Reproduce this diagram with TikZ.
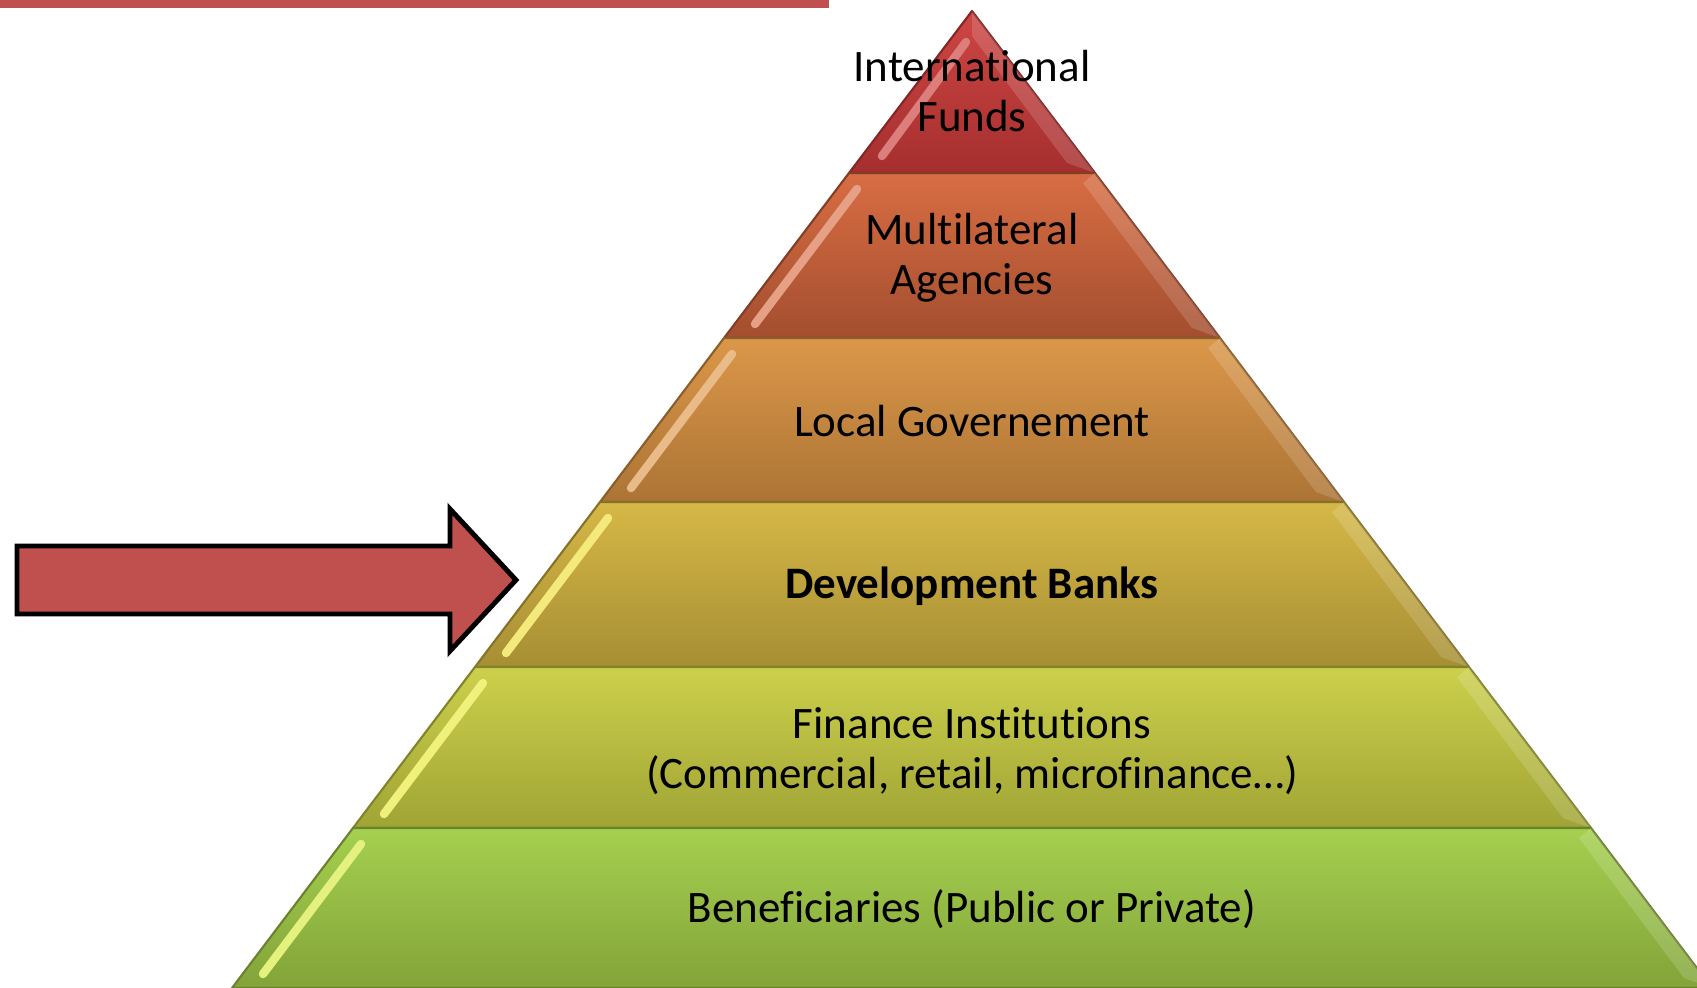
\documentclass[tikz,border=0pt]{standalone}
\usepackage{fontspec}
\setmainfont[RawFeature={-liga;-rlig;-clig;-calt;-dlig}]{Carlito}
\usepackage{xcolor}
\usepackage{tikz}
\usetikzlibrary{positioning,calc}

\definecolor{fundstop}{HTML}{CD4644}
\definecolor{fundsbot}{HTML}{A52F2E}
\definecolor{multitop}{HTML}{D86D43}
\definecolor{multibot}{HTML}{A34E2F}
\definecolor{localtop}{HTML}{DB9749}
\definecolor{localbot}{HTML}{AC7435}
\definecolor{banktop}{HTML}{D6B847}
\definecolor{bankbot}{HTML}{A68E33}
\definecolor{fintop}{HTML}{CCD04B}
\definecolor{finbot}{HTML}{A0A435}
\definecolor{benetop}{HTML}{A5D04F}
\definecolor{benebot}{HTML}{83A339}
\definecolor{slidered}{HTML}{C0504D}

\begin{document}
\begin{tikzpicture}[
    x=0.01cm, y=-0.01cm,
    font=\fontsize{12.8}{14.3}\selectfont,
    layer/.style={draw=#1, line width=0.6pt, line join=round},
    hilite/.style={line width=2.4pt, line cap=round, draw=#1},
    bevel/.style={fill=white, fill opacity=0.15},
    label/.style={align=center, text=black, inner sep=0pt},
    blockarrow/.style={fill=slidered, draw=black, line width=1.4pt, line join=miter}
]
    \clip (0,0) rectangle (1697,988);

    % Title bar
    \fill[slidered] (0,0) rectangle (829,8);

    % Top layer
    \shade[top color=fundstop, bottom color=fundsbot] (972,11) -- (1095,173) -- (849,173) -- cycle;
    \draw[layer=fundsbot!80!black] (972,11) -- (1095,173) -- (849,173) -- cycle;
    \draw[hilite=fundstop!70!white] (966,42) -- (882,156);
    \fill[bevel] (972,11) -- (1095,173) -- (1067,163) -- (972,36) -- cycle;

    % Second layer
    \shade[top color=multitop, bottom color=multibot] (849,173) -- (1095,173) -- (1220,338) -- (724,338) -- cycle;
    \draw[layer=multibot!80!black] (849,173) -- (1095,173) -- (1220,338) -- (724,338) -- cycle;
    \draw[hilite=multitop!65!white] (857,189) -- (755,324);
    \fill[bevel] (1095,173) -- (1220,338) -- (1192,328) -- (1083,183) -- cycle;

    % Third layer
    \shade[top color=localtop, bottom color=localbot] (724,338) -- (1220,338) -- (1344,502) -- (600,502) -- cycle;
    \draw[layer=localbot!80!black] (724,338) -- (1220,338) -- (1344,502) -- (600,502) -- cycle;
    \draw[hilite=localtop!65!white] (732,354) -- (631,488);
    \fill[bevel] (1220,338) -- (1344,502) -- (1316,492) -- (1208,348) -- cycle;

    % Fourth layer
    \shade[top color=banktop, bottom color=bankbot] (600,502) -- (1344,502) -- (1469,667) -- (475,667) -- cycle;
    \draw[layer=bankbot!80!black] (600,502) -- (1344,502) -- (1469,667) -- (475,667) -- cycle;
    \draw[hilite=banktop!50!yellow!60!white] (608,518) -- (506,653);
    \fill[bevel] (1344,502) -- (1469,667) -- (1441,657) -- (1332,512) -- cycle;

    % Fifth layer
    \shade[top color=fintop, bottom color=finbot] (475,667) -- (1469,667) -- (1591,828) -- (353,828) -- cycle;
    \draw[layer=finbot!80!black] (475,667) -- (1469,667) -- (1591,828) -- (353,828) -- cycle;
    \draw[hilite=fintop!50!yellow!60!white] (483,683) -- (384,814);
    \fill[bevel] (1469,667) -- (1591,828) -- (1563,818) -- (1457,677) -- cycle;

    % Bottom layer
    \shade[top color=benetop, bottom color=benebot] (353,828) -- (1591,828) -- (1712,988) -- (232,988) -- cycle;
    \draw[layer=benebot!80!black] (353,828) -- (1591,828) -- (1712,988) -- (232,988) -- cycle;
    \draw[hilite=benetop!50!yellow!60!white] (361,844) -- (263,974);
    \fill[bevel] (1591,828) -- (1712,988) -- (1684,978) -- (1579,838) -- cycle;

    % Labels
    \node[label] (funds) at (972,91) {International\\Funds};
    \node[label] (multi) at (972,258) {Multilateral\\Agencies};
    \node[label] (local) at (972,421) {Local Governement};
    \node[label, font=\fontsize{12.8}{14.3}\selectfont\bfseries] (devbank) at (972,586) {Development Banks};
    \node[label] (finance) at (972,751) {Finance Institutions\\(Commercial, retail, microfinance…)};
    \node[label] (benef) at (972,909) {Beneficiaries (Public or Private)};

    % Pointer
    \draw[blockarrow] (17,546) -- (450,546) -- (450,509) -- (516,580) -- (450,651) -- (450,614) -- (17,614) -- cycle;
\end{tikzpicture}
\end{document}
